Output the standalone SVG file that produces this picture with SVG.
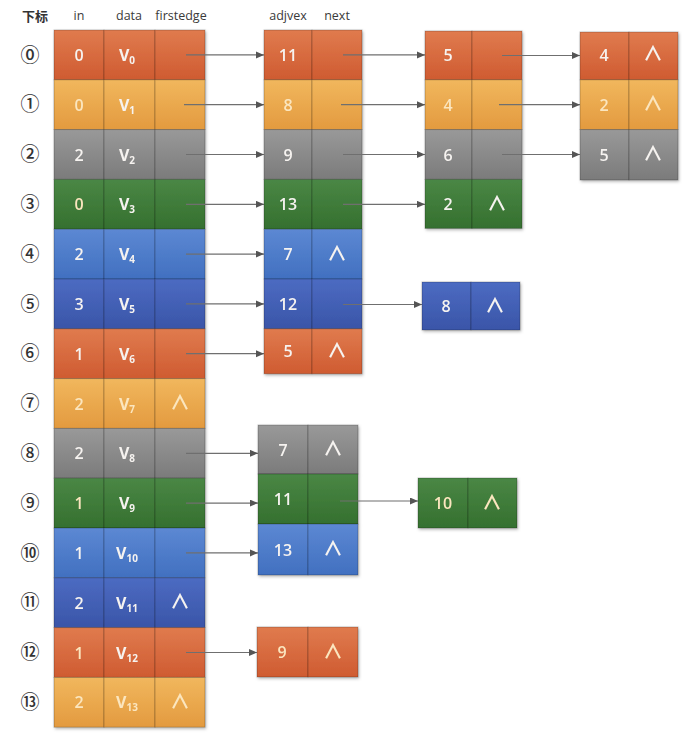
<svg xmlns="http://www.w3.org/2000/svg" width="692" height="742" viewBox="0 0 692 742">
<style>
.hd{font-family:"Open Sans","Noto Sans",sans-serif;font-size:12.5px;fill:#3a3a3a;text-anchor:middle}
.hz{font-family:"Noto Sans CJK SC",sans-serif;font-size:13px;font-weight:bold;fill:#333;text-anchor:middle}
.ix{font-family:"Noto Sans CJK SC","DejaVu Sans",sans-serif;font-size:19px;font-weight:500;fill:#333;text-anchor:middle}
.t{font-family:"Open Sans","Noto Sans",sans-serif;font-size:16px;font-weight:600;text-anchor:middle;fill:#f6f3f0}
.v{font-weight:bold}
.s{font-size:10px;font-weight:bold}
.lt{fill:#fbe6bf}
.nl{font-family:"Noto Sans CJK SC","DejaVu Sans",sans-serif;font-size:20px;font-weight:700}
.c{stroke:rgba(0,0,0,0.22);stroke-width:1}
.red{fill:url(#gR)}.org{fill:url(#gO)}.gry{fill:url(#gG)}.grn{fill:url(#gN)}.blu{fill:url(#gB)}.dbl{fill:url(#gD)}
.sh{filter:url(#shadow)}
.ln{stroke:#6f6f6f;stroke-width:1.2;fill:none;marker-end:url(#ah)}
</style>
<defs>
<linearGradient id="gR" x1="0" y1="0" x2="0" y2="1"><stop offset="0" stop-color="#e07b4e"/><stop offset="1" stop-color="#cf5b31"/></linearGradient>
<linearGradient id="gO" x1="0" y1="0" x2="0" y2="1"><stop offset="0" stop-color="#f1b75d"/><stop offset="1" stop-color="#e39a3f"/></linearGradient>
<linearGradient id="gG" x1="0" y1="0" x2="0" y2="1"><stop offset="0" stop-color="#999999"/><stop offset="1" stop-color="#7b7b7b"/></linearGradient>
<linearGradient id="gN" x1="0" y1="0" x2="0" y2="1"><stop offset="0" stop-color="#4a8745"/><stop offset="1" stop-color="#35702f"/></linearGradient>
<linearGradient id="gB" x1="0" y1="0" x2="0" y2="1"><stop offset="0" stop-color="#5c88d3"/><stop offset="1" stop-color="#4170c0"/></linearGradient>
<linearGradient id="gD" x1="0" y1="0" x2="0" y2="1"><stop offset="0" stop-color="#4c6bc2"/><stop offset="1" stop-color="#3a55a8"/></linearGradient>
<filter id="shadow" x="-10%" y="-10%" width="125%" height="125%"><feDropShadow dx="1" dy="1.5" stdDeviation="1.5" flood-color="#000" flood-opacity="0.3"/></filter>
<marker id="ah" markerWidth="9" markerHeight="8" refX="8" refY="3.5" orient="auto" markerUnits="userSpaceOnUse"><path d="M0,0 L8,3.5 L0,7 z" fill="#555"/></marker>
</defs>
<g id="headers">
<text class="hz" x="35" y="21">下标</text>
<text class="hd" x="79" y="20">in</text>
<text class="hd" x="129" y="20">data</text>
<text class="hd" x="181" y="20">firstedge</text>
<text class="hd" x="288" y="20">adjvex</text>
<text class="hd" x="337" y="20">next</text>
</g>
<g id="indices">
<text class="ix" x="30" y="61.5">⓪</text>
<text class="ix" x="30" y="111.3">①</text>
<text class="ix" x="30" y="161.1">②</text>
<text class="ix" x="30" y="210.9">③</text>
<text class="ix" x="30" y="260.7">④</text>
<text class="ix" x="30" y="310.5">⑤</text>
<text class="ix" x="30" y="360.3">⑥</text>
<text class="ix" x="30" y="410.1">⑦</text>
<text class="ix" x="30" y="459.9">⑧</text>
<text class="ix" x="30" y="509.7">⑨</text>
<text class="ix" x="30" y="559.5">⑩</text>
<text class="ix" x="30" y="609.3">⑪</text>
<text class="ix" x="30" y="659.1">⑫</text>
<text class="ix" x="30" y="708.9">⑬</text>
</g>
<g id="vertex-table" class="sh">
<g id="v0"><rect class="c red" x="54" y="30" width="50" height="49.8"/><rect class="c red" x="104" y="30" width="51" height="49.8"/><rect class="c red" x="155" y="30" width="50" height="49.8"/><text class="t" x="79" y="60.9">0</text><text class="t v" x="127" y="60.9">V<tspan class="s" dy="3">0</tspan></text></g>
<g id="v1"><rect class="c org" x="54" y="79.8" width="50" height="49.8"/><rect class="c org" x="104" y="79.8" width="51" height="49.8"/><rect class="c org" x="155" y="79.8" width="50" height="49.8"/><text class="t lt" x="79" y="110.7">0</text><text class="t v" x="127" y="110.7">V<tspan class="s" dy="3">1</tspan></text></g>
<g id="v2"><rect class="c gry" x="54" y="129.6" width="50" height="49.8"/><rect class="c gry" x="104" y="129.6" width="51" height="49.8"/><rect class="c gry" x="155" y="129.6" width="50" height="49.8"/><text class="t" x="79" y="160.5">2</text><text class="t v" x="127" y="160.5">V<tspan class="s" dy="3">2</tspan></text></g>
<g id="v3"><rect class="c grn" x="54" y="179.4" width="50" height="49.8"/><rect class="c grn" x="104" y="179.4" width="51" height="49.8"/><rect class="c grn" x="155" y="179.4" width="50" height="49.8"/><text class="t lt" x="79" y="210.3">0</text><text class="t v" x="127" y="210.3">V<tspan class="s" dy="3">3</tspan></text></g>
<g id="v4"><rect class="c blu" x="54" y="229.2" width="50" height="49.8"/><rect class="c blu" x="104" y="229.2" width="51" height="49.8"/><rect class="c blu" x="155" y="229.2" width="50" height="49.8"/><text class="t" x="79" y="260.1">2</text><text class="t v" x="127" y="260.1">V<tspan class="s" dy="3">4</tspan></text></g>
<g id="v5"><rect class="c dbl" x="54" y="279" width="50" height="49.8"/><rect class="c dbl" x="104" y="279" width="51" height="49.8"/><rect class="c dbl" x="155" y="279" width="50" height="49.8"/><text class="t" x="79" y="309.9">3</text><text class="t v" x="127" y="309.9">V<tspan class="s" dy="3">5</tspan></text></g>
<g id="v6"><rect class="c red" x="54" y="328.8" width="50" height="49.8"/><rect class="c red" x="104" y="328.8" width="51" height="49.8"/><rect class="c red" x="155" y="328.8" width="50" height="49.8"/><text class="t" x="79" y="359.7">1</text><text class="t v" x="127" y="359.7">V<tspan class="s" dy="3">6</tspan></text></g>
<g id="v7"><rect class="c org" x="54" y="378.6" width="50" height="49.8"/><rect class="c org" x="104" y="378.6" width="51" height="49.8"/><rect class="c org" x="155" y="378.6" width="50" height="49.8"/><text class="t lt" x="79" y="409.5">2</text><text class="t v lt" x="127" y="409.5">V<tspan class="s" dy="3">7</tspan></text><text class="t nl lt" x="180" y="410">∧</text></g>
<g id="v8"><rect class="c gry" x="54" y="428.4" width="50" height="49.8"/><rect class="c gry" x="104" y="428.4" width="51" height="49.8"/><rect class="c gry" x="155" y="428.4" width="50" height="49.8"/><text class="t" x="79" y="459.3">2</text><text class="t v" x="127" y="459.3">V<tspan class="s" dy="3">8</tspan></text></g>
<g id="v9"><rect class="c grn" x="54" y="478.2" width="50" height="49.8"/><rect class="c grn" x="104" y="478.2" width="51" height="49.8"/><rect class="c grn" x="155" y="478.2" width="50" height="49.8"/><text class="t lt" x="79" y="509.1">1</text><text class="t v" x="127" y="509.1">V<tspan class="s" dy="3">9</tspan></text></g>
<g id="v10"><rect class="c blu" x="54" y="528" width="50" height="49.8"/><rect class="c blu" x="104" y="528" width="51" height="49.8"/><rect class="c blu" x="155" y="528" width="50" height="49.8"/><text class="t" x="79" y="558.9">1</text><text class="t v" x="127" y="558.9">V<tspan class="s" dy="3">10</tspan></text></g>
<g id="v11"><rect class="c dbl" x="54" y="577.8" width="50" height="49.8"/><rect class="c dbl" x="104" y="577.8" width="51" height="49.8"/><rect class="c dbl" x="155" y="577.8" width="50" height="49.8"/><text class="t" x="79" y="608.7">2</text><text class="t v" x="127" y="608.7">V<tspan class="s" dy="3">11</tspan></text><text class="t nl" x="180" y="609.2">∧</text></g>
<g id="v12"><rect class="c red" x="54" y="627.6" width="50" height="49.8"/><rect class="c red" x="104" y="627.6" width="51" height="49.8"/><rect class="c red" x="155" y="627.6" width="50" height="49.8"/><text class="t lt" x="79" y="658.5">1</text><text class="t v" x="127" y="658.5">V<tspan class="s" dy="3">12</tspan></text></g>
<g id="v13"><rect class="c org" x="54" y="677.4" width="50" height="49.8"/><rect class="c org" x="104" y="677.4" width="51" height="49.8"/><rect class="c org" x="155" y="677.4" width="50" height="49.8"/><text class="t lt" x="79" y="708.3">2</text><text class="t v lt" x="127" y="708.3">V<tspan class="s" dy="3">13</tspan></text><text class="t nl lt" x="180" y="708.8">∧</text></g>
</g>
<g id="edge-nodes" class="sh">
<g id="e0a"><rect class="c red" x="264" y="30" width="48" height="49.8"/><rect class="c red" x="312" y="30" width="50" height="49.8"/><text class="t" x="288" y="60.9">11</text></g>
<g id="e1a"><rect class="c org" x="264" y="79.8" width="48" height="49.8"/><rect class="c org" x="312" y="79.8" width="50" height="49.8"/><text class="t lt" x="288" y="110.7">8</text></g>
<g id="e2a"><rect class="c gry" x="264" y="129.6" width="48" height="49.8"/><rect class="c gry" x="312" y="129.6" width="50" height="49.8"/><text class="t" x="288" y="160.5">9</text></g>
<g id="e3a"><rect class="c grn" x="264" y="179.4" width="48" height="49.8"/><rect class="c grn" x="312" y="179.4" width="50" height="49.8"/><text class="t" x="288" y="210.3">13</text></g>
<g id="e4a"><rect class="c blu" x="264" y="229.2" width="48" height="49.8"/><rect class="c blu" x="312" y="229.2" width="50" height="49.8"/><text class="t" x="288" y="260.1">7</text><text class="t nl" x="337" y="260.6">∧</text></g>
<g id="e5a"><rect class="c dbl" x="264" y="279" width="48" height="49.8"/><rect class="c dbl" x="312" y="279" width="50" height="49.8"/><text class="t" x="288" y="309.9">12</text></g>
<g id="e6a"><rect class="c red" x="264" y="328.8" width="48" height="45"/><rect class="c red" x="312" y="328.8" width="50" height="45"/><text class="t" x="288" y="357">5</text><text class="t nl" x="337" y="357.5">∧</text></g>
<g id="e8a"><rect class="c gry" x="258" y="425" width="50" height="49"/><rect class="c gry" x="308" y="425" width="50" height="49"/><text class="t" x="283" y="455.5">7</text><text class="t nl" x="333" y="456">∧</text></g>
<g id="e9a"><rect class="c grn" x="258" y="474" width="50" height="50"/><rect class="c grn" x="308" y="474" width="50" height="50"/><text class="t" x="283" y="505">11</text></g>
<g id="e10a"><rect class="c blu" x="258" y="524" width="50" height="51"/><rect class="c blu" x="308" y="524" width="50" height="51"/><text class="t" x="283" y="555.5">13</text><text class="t nl" x="333" y="556">∧</text></g>
<g id="e12a"><rect class="c red" x="257" y="627" width="51" height="50"/><rect class="c red" x="308" y="627" width="50" height="50"/><text class="t lt" x="282" y="658">9</text><text class="t nl lt" x="333" y="658.5">∧</text></g>
<g id="e0b"><rect class="c red" x="425" y="31" width="47" height="48.8"/><rect class="c red" x="472" y="31" width="50" height="48.8"/><text class="t" x="448" y="60.9">5</text></g>
<g id="e1b"><rect class="c org" x="425" y="79.8" width="47" height="49.8"/><rect class="c org" x="472" y="79.8" width="50" height="49.8"/><text class="t lt" x="448" y="110.7">4</text></g>
<g id="e2b"><rect class="c gry" x="425" y="129.6" width="47" height="49.8"/><rect class="c gry" x="472" y="129.6" width="50" height="49.8"/><text class="t" x="448" y="160.5">6</text></g>
<g id="e3b"><rect class="c grn" x="425" y="179.4" width="47" height="49"/><rect class="c grn" x="472" y="179.4" width="50" height="49"/><text class="t" x="448" y="210.3">2</text><text class="t nl" x="497" y="210.8">∧</text></g>
<g id="e5b"><rect class="c dbl" x="422" y="282" width="49" height="48"/><rect class="c dbl" x="471" y="282" width="49" height="48"/><text class="t" x="446" y="312">8</text><text class="t nl" x="495" y="312.5">∧</text></g>
<g id="e9b"><rect class="c grn" x="418" y="478" width="50" height="50"/><rect class="c grn" x="468" y="478" width="49" height="50"/><text class="t lt" x="443" y="509">10</text><text class="t nl lt" x="492" y="509.5">∧</text></g>
<g id="e0c"><rect class="c red" x="580" y="32" width="49" height="47.8"/><rect class="c red" x="629" y="32" width="49" height="47.8"/><text class="t" x="604" y="60.9">4</text><text class="t nl" x="653" y="61.4">∧</text></g>
<g id="e1c"><rect class="c org" x="580" y="79.8" width="49" height="49.8"/><rect class="c org" x="629" y="79.8" width="49" height="49.8"/><text class="t lt" x="604" y="110.7">2</text><text class="t nl lt" x="653" y="111.2">∧</text></g>
<g id="e2c"><rect class="c gry" x="580" y="129.6" width="49" height="50.4"/><rect class="c gry" x="629" y="129.6" width="49" height="50.4"/><text class="t" x="604" y="160.5">5</text><text class="t nl" x="653" y="161">∧</text></g>
</g>
<g id="connectors">
<line class="ln" x1="186" y1="54.9" x2="264" y2="54.9"/>
<line class="ln" x1="184" y1="104.7" x2="264" y2="104.7"/>
<line class="ln" x1="186" y1="154.5" x2="264" y2="154.5"/>
<line class="ln" x1="186" y1="204.3" x2="264" y2="204.3"/>
<line class="ln" x1="186" y1="254.1" x2="264" y2="254.1"/>
<line class="ln" x1="186" y1="303.9" x2="264" y2="303.9"/>
<line class="ln" x1="186" y1="353.7" x2="264" y2="353.7"/>
<line class="ln" x1="186" y1="453.3" x2="258" y2="453.3"/>
<line class="ln" x1="186" y1="503.1" x2="258" y2="503.1"/>
<line class="ln" x1="186" y1="552.9" x2="258" y2="552.9"/>
<line class="ln" x1="186" y1="652.5" x2="257" y2="652.5"/>
<line class="ln" x1="343" y1="54.9" x2="425" y2="54.9"/>
<line class="ln" x1="341" y1="104.7" x2="425" y2="104.7"/>
<line class="ln" x1="343" y1="154.5" x2="425" y2="154.5"/>
<line class="ln" x1="343" y1="204.3" x2="425" y2="204.3"/>
<line class="ln" x1="343" y1="304.5" x2="422" y2="304.5"/>
<line class="ln" x1="340" y1="501" x2="418" y2="501"/>
<line class="ln" x1="502" y1="55.5" x2="580" y2="55.5"/>
<line class="ln" x1="499" y1="104.7" x2="580" y2="104.7"/>
<line class="ln" x1="502" y1="154.5" x2="580" y2="154.5"/>
</g>
</svg>
